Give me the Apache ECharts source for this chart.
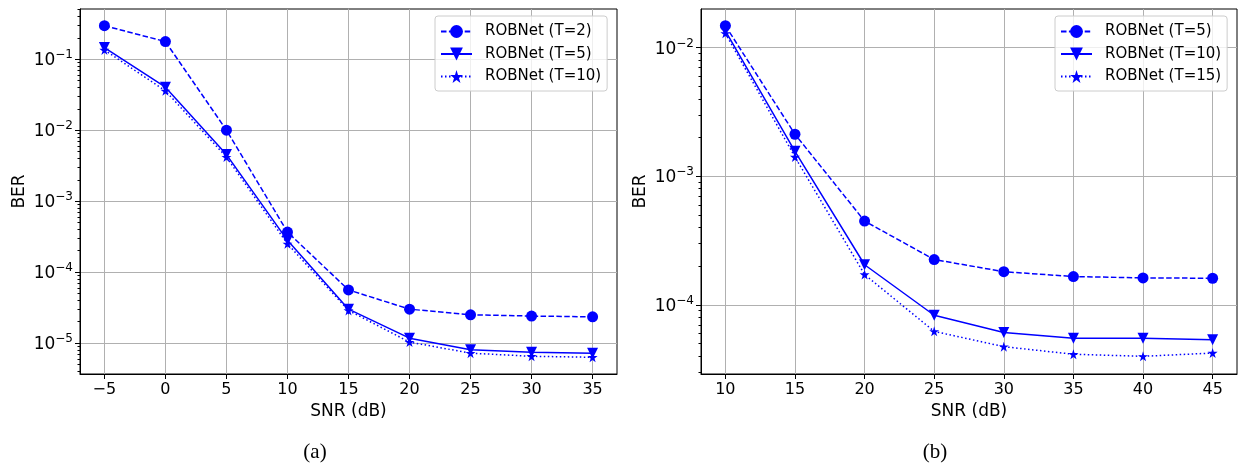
<!DOCTYPE html>
<html>
<head>
<meta charset="utf-8">
<script src="https://cdn.jsdelivr.net/npm/echarts@6/dist/echarts.min.js"></script>
<style>
html,body{margin:0;padding:0;background:#fff;}
#chart{width:1238px;height:466px;}
</style>
</head>
<body>
<div id="chart"></div>
<script>
// ---- data ----
const snrA = [-5, 0, 5, 10, 15, 20, 25, 30, 35];
const berA_T2 = [0.297, 0.177, 0.0100, 3.66e-4, 5.6e-5, 3.0e-5, 2.5e-5, 2.4e-5, 2.34e-5];
const berA_T5 = [0.146, 0.0403, 0.00453, 2.8e-4, 3.0e-5, 1.17e-5, 8.05e-6, 7.4e-6, 7.2e-6];
const berA_T10 = [0.135, 0.0358, 0.00417, 2.5e-4, 2.88e-5, 1.03e-5, 7.2e-6, 6.5e-6, 6.3e-6];

const snrB = [10, 15, 20, 25, 30, 35, 40, 45];
const berB_T5 = [0.0148, 0.00212, 4.48e-4, 2.25e-4, 1.81e-4, 1.66e-4, 1.62e-4, 1.61e-4];
const berB_T10 = [0.0135, 0.00156, 2.05e-4, 8.3e-5, 6.1e-5, 5.5e-5, 5.5e-5, 5.36e-5];
const berB_T15 = [0.0129, 0.00141, 1.72e-4, 6.22e-5, 4.73e-5, 4.13e-5, 3.98e-5, 4.22e-5];

const namesA = ['ROBNet (T=2)', 'ROBNet (T=5)', 'ROBNet (T=10)'];
const namesB = ['ROBNet (T=5)', 'ROBNet (T=10)', 'ROBNet (T=15)'];

const xTicksA = [-5, 0, 5, 10, 15, 20, 25, 30, 35];
const xTicksB = [10, 15, 20, 25, 30, 35, 40, 45];
const yTicksA = [1e-5, 1e-4, 1e-3, 1e-2, 1e-1];
const yTicksB = [1e-4, 1e-3, 1e-2];
const yMinorA = [4e-6, 5e-6, 6e-6, 7e-6, 8e-6, 9e-6,
  2e-5, 3e-5, 4e-5, 5e-5, 6e-5, 7e-5, 8e-5, 9e-5,
  2e-4, 3e-4, 4e-4, 5e-4, 6e-4, 7e-4, 8e-4, 9e-4,
  2e-3, 3e-3, 4e-3, 5e-3, 6e-3, 7e-3, 8e-3, 9e-3,
  2e-2, 3e-2, 4e-2, 5e-2, 6e-2, 7e-2, 8e-2, 9e-2,
  2e-1, 3e-1, 4e-1, 5e-1];
const yMinorB = [3e-5, 4e-5, 5e-5, 6e-5, 7e-5, 8e-5, 9e-5,
  2e-4, 3e-4, 4e-4, 5e-4, 6e-4, 7e-4, 8e-4, 9e-4,
  2e-3, 3e-3, 4e-3, 5e-3, 6e-3, 7e-3, 8e-3, 9e-3];

// ---- styling ----
const FONT = 'DejaVu Sans';
const BLUE = '#0000ff';
const STAR = 'path://M0,-1L0.2245,-0.309L0.951,-0.309L0.363,0.118L0.588,0.809L0,0.382L-0.588,0.809L-0.363,0.118L-0.951,-0.309L-0.2245,-0.309Z';
const DASHED = [5.5, 2.4];
const DOTTED = [1.5, 2.5];

function xAxisCfg(gridIndex, min, max, ticks) {
  return {
    gridIndex, type: 'value', min, max, minInterval: 5, maxInterval: 5,
    axisLine: {show: true, onZero: false, lineStyle: {color: '#000', width: 1}},
    axisTick: {show: true, customValues: ticks, length: 5, lineStyle: {color: '#000', width: 1}},
    axisLabel: {customValues: ticks, showMinLabel: true, showMaxLabel: true,
      formatter: v => String(v).replace('-', '\u2212'),
      color: '#000', fontSize: 16, fontFamily: FONT, margin: 8},
    splitLine: {show: true, lineStyle: {color: '#b0b0b0', width: 1}},
    name: 'SNR (dB)', nameLocation: 'middle', nameGap: 27,
    nameTextStyle: {fontSize: 17, color: '#000', fontFamily: FONT}
  };
}
function yAxisCfg(gridIndex, min, max, ticks) {
  return {
    gridIndex, type: 'log', logBase: 10, min, max, position: 'left',
    axisLine: {show: true, onZero: false, lineStyle: {color: '#000', width: 1}},
    axisTick: {show: true, customValues: ticks, length: 5, lineStyle: {color: '#000', width: 1}},
    axisLabel: {customValues: ticks, color: '#000', fontFamily: FONT, margin: 7,
      formatter: v => {
        const e = Math.round(Math.log10(v));
        return '{b|10}{s|' + (e < 0 ? '\u2212' : '') + Math.abs(e) + '}';
      },
      rich: {
        b: {fontSize: 17, fontFamily: FONT, color: '#000', verticalAlign: 'bottom', lineHeight: 20},
        s: {fontSize: 12, fontFamily: FONT, color: '#000', verticalAlign: 'top', lineHeight: 12}
      }
    },
    splitLine: {show: true, lineStyle: {color: '#b0b0b0', width: 1}},
    name: 'BER', nameLocation: 'middle', nameGap: 52, nameRotate: 90,
    nameTextStyle: {fontSize: 17, color: '#000', fontFamily: FONT}
  };
}
function yMinorCfg(gridIndex, min, max, ticks) {
  return {
    gridIndex, type: 'log', logBase: 10, min, max, position: 'left', offset: 0,
    axisLine: {show: false, onZero: false},
    axisTick: {show: true, customValues: ticks, length: 2.5, lineStyle: {color: '#000', width: 1}},
    axisLabel: {show: false},
    splitLine: {show: false}
  };
}
function mkSeries(name, xs, ys, xi, yi, kind) {
  const base = {
    type: 'line', name, xAxisIndex: xi, yAxisIndex: yi,
    data: xs.map((x, i) => [x, ys[i]]),
    showSymbol: true, animation: false,
    itemStyle: {color: BLUE},
    lineStyle: {color: BLUE, width: 1.5}
  };
  if (kind === 'circle') {
    base.symbol = 'circle'; base.symbolSize = 11; base.lineStyle.type = DASHED;
  } else if (kind === 'tri') {
    base.symbol = 'triangle'; base.symbolSize = 11; base.symbolRotate = 180; base.lineStyle.type = 'solid';
  } else {
    base.symbol = STAR; base.symbolSize = 10; base.lineStyle.type = DOTTED;
  }
  return base;
}
function legendCfg(left, data) {
  return {
    left, top: 16, orient: 'vertical',
    itemWidth: 31, itemHeight: 16, itemGap: 7.5,
    padding: [8, 6, 7, 5],
    borderColor: '#cccccc', borderWidth: 1, borderRadius: 3,
    backgroundColor: 'rgba(255,255,255,0.8)',
    textStyle: {fontSize: 15, color: '#000', fontFamily: FONT, padding: [0, 0, 0, 8]},
    formatter: n => n.split('|')[0],
    data
  };
}

const lnA = namesA.map(n => n + '|a');
const lnB = namesB.map(n => n + '|b');

const option = {
  animation: false,
  backgroundColor: '#fff',
  textStyle: {fontFamily: FONT},
  grid: [
    {left: 80, top: 9, width: 537, height: 365, show: true, borderColor: '#000', borderWidth: 1, backgroundColor: 'transparent'},
    {left: 701, top: 9, width: 536, height: 365, show: true, borderColor: '#000', borderWidth: 1, backgroundColor: 'transparent'}
  ],
  xAxis: [
    xAxisCfg(0, -7, 37, xTicksA),
    xAxisCfg(1, 8.25, 46.75, xTicksB)
  ],
  yAxis: [
    yAxisCfg(0, 3.66e-6, 0.51, yTicksA),
    yMinorCfg(0, 3.66e-6, 0.51, yMinorA),
    yAxisCfg(1, 2.9e-5, 0.01995, yTicksB),
    yMinorCfg(1, 2.9e-5, 0.01995, yMinorB)
  ],
  legend: [legendCfg(435, lnA), legendCfg(1055, lnB)],
  series: [
    mkSeries(lnA[0], snrA, berA_T2, 0, 0, 'circle'),
    mkSeries(lnA[1], snrA, berA_T5, 0, 0, 'tri'),
    mkSeries(lnA[2], snrA, berA_T10, 0, 0, 'star'),
    mkSeries(lnB[0], snrB, berB_T5, 1, 2, 'circle'),
    mkSeries(lnB[1], snrB, berB_T10, 1, 2, 'tri'),
    mkSeries(lnB[2], snrB, berB_T15, 1, 2, 'star')
  ],
  graphic: [
    {type: 'text', x: 315, y: 452, style: {text: '(a)', font: '21px "Liberation Serif"', fill: '#000', align: 'center', verticalAlign: 'middle', textAlign: 'center', textVerticalAlign: 'middle'}},
    {type: 'text', x: 935, y: 452, style: {text: '(b)', font: '21px "Liberation Serif"', fill: '#000', align: 'center', verticalAlign: 'middle', textAlign: 'center', textVerticalAlign: 'middle'}}
  ]
};

const chart = echarts.init(document.getElementById('chart'), null, {renderer: 'canvas'});
chart.setOption(option);
</script>
</body>
</html>
